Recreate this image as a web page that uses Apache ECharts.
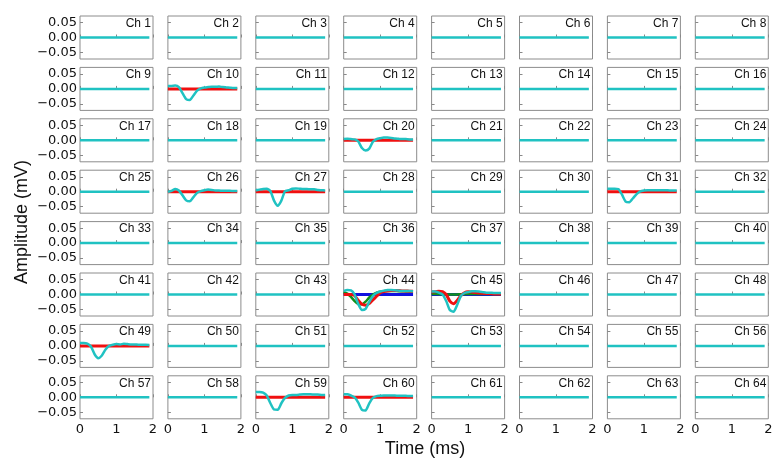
<!DOCTYPE html>
<html>
<head>
<meta charset="utf-8">
<script src="https://cdn.jsdelivr.net/npm/echarts@6/dist/echarts.min.js"></script>
<style>
  html, body { margin: 0; padding: 0; background: #fff; }
  #chart { width: 784px; height: 470px; }
</style>
</head>
<body>
<div id="chart"></div>
<script>
// time axis (ms)
const timeMs = [0, 0.1, 0.2, 0.3, 0.4, 0.5, 0.6, 0.7, 0.8, 0.9, 1.0, 1.1, 1.2, 1.3, 1.4, 1.5, 1.6, 1.7, 1.8, 1.9]
const zeroTrace = [0, 0, 0, 0, 0, 0, 0, 0, 0, 0, 0, 0, 0, 0, 0, 0, 0, 0, 0, 0]

const yTicks = [-0.05, 0, 0.05]

// channels with a response (mV)
const ch10Cyan = [0.010, 0.010, 0.011, 0.006, -0.014, -0.034, -0.037, -0.022, -0.006, 0.002, 0.005, 0.006, 0.007, 0.007, 0.008, 0.006, 0.005, 0.004, 0.003, 0.003]
const ch20Cyan = [0.004, 0.005, 0.004, 0.003, -0.004, -0.026, -0.034, -0.028, -0.005, 0.004, 0.007, 0.009, 0.009, 0.008, 0.006, 0.005, 0.004, 0.004, 0.003, 0.003]
const ch26Cyan = [0.000, 0.003, 0.009, 0.004, -0.012, -0.029, -0.032, -0.018, -0.004, 0.002, 0.005, 0.007, 0.006, 0.004, 0.004, 0.003, 0.003, 0.003, 0.002, 0.002]
const ch27Cyan = [0.005, 0.007, 0.009, 0.010, 0.002, -0.030, -0.047, -0.030, 0.002, 0.005, 0.010, 0.011, 0.010, 0.009, 0.009, 0.008, 0.008, 0.006, 0.005, 0.004]
const ch31Cyan = [0.010, 0.010, 0.010, 0.009, -0.010, -0.033, -0.035, -0.022, -0.008, 0.001, 0.004, 0.005, 0.005, 0.005, 0.005, 0.005, 0.005, 0.004, 0.004, 0.004]
const ch44Green = [0.008, 0.003, -0.008, -0.022, -0.032, -0.033, -0.024, -0.010, 0.000, 0.006, 0.009, 0.011, 0.012, 0.012, 0.012, 0.011, 0.011, 0.010, 0.010, 0.010]
const ch44Red = [0.000, 0.000, 0.000, -0.004, -0.020, -0.033, -0.036, -0.030, -0.018, -0.006, 0.006, 0.010, 0.012, 0.013, 0.013, 0.013, 0.012, 0.012, 0.011, 0.011]
const ch44Cyan = [0.012, 0.015, 0.014, 0.000, -0.032, -0.052, -0.048, -0.025, -0.005, 0.005, 0.010, 0.013, 0.015, 0.015, 0.014, 0.013, 0.012, 0.012, 0.012, 0.011]
const ch45Green = [0.002, 0.002, 0.001, 0.001, 0.000, 0.000, 0.000, 0.000, 0.001, 0.001, 0.002, 0.002, 0.002, 0.002, 0.002, 0.002, 0.002, 0.002, 0.002, 0.002]
const ch45Red = [0.008, 0.009, 0.011, 0.010, 0.000, -0.022, -0.031, -0.020, -0.004, 0.006, 0.009, 0.008, 0.007, 0.005, 0.004, 0.003, 0.003, 0.002, 0.002, 0.002]
const ch45Cyan = [0.010, 0.010, 0.006, 0.000, -0.022, -0.052, -0.058, -0.035, -0.005, 0.005, 0.008, 0.011, 0.011, 0.010, 0.008, 0.006, 0.006, 0.005, 0.005, 0.005]
const ch49Cyan = [0.010, 0.010, 0.008, -0.002, -0.028, -0.041, -0.032, -0.012, 0.000, 0.004, 0.006, 0.005, 0.007, 0.006, 0.005, 0.005, 0.004, 0.004, 0.004, 0.003]
const ch59Cyan = [0.018, 0.018, 0.016, 0.006, -0.020, -0.041, -0.042, -0.020, -0.002, 0.006, 0.008, 0.008, 0.009, 0.010, 0.010, 0.010, 0.009, 0.009, 0.008, 0.008]
const ch60Cyan = [0.010, 0.010, 0.006, 0.000, -0.018, -0.042, -0.044, -0.020, -0.002, 0.004, 0.005, 0.006, 0.006, 0.006, 0.006, 0.005, 0.005, 0.005, 0.004, 0.004]

const COLORS = { blue: '#1010e0', green: '#10901a', red: '#f01010', cyan: '#20c2c2' }
const WIDTHS = { blue: 3, green: 2.5, red: 3, cyan: 2.5 }

// traces per channel, drawn in this order (cyan on top)
const traces = {
  10: [['red', zeroTrace], ['cyan', ch10Cyan]],
  20: [['red', zeroTrace], ['cyan', ch20Cyan]],
  26: [['red', zeroTrace], ['cyan', ch26Cyan]],
  27: [['red', zeroTrace], ['cyan', ch27Cyan]],
  31: [['red', zeroTrace], ['cyan', ch31Cyan]],
  44: [['blue', zeroTrace], ['green', ch44Green], ['red', ch44Red], ['cyan', ch44Cyan]],
  45: [['blue', zeroTrace], ['green', ch45Green], ['red', ch45Red], ['cyan', ch45Cyan]],
  49: [['red', zeroTrace], ['cyan', ch49Cyan]],
  59: [['red', zeroTrace], ['cyan', ch59Cyan]],
  60: [['red', zeroTrace], ['cyan', ch60Cyan]]
}

const W = 784
const cellLeft = 80, cellTop = 16, pitchX = 87.9, pitchY = 51.4, cellW = 73, cellH = 43

const grids = [], xAxes = [], yAxes = [], titles = [], series = []

for (let i = 0; i < 64; i++) {
  const r = Math.floor(i / 8), c = i % 8
  const left = cellLeft + c * pitchX
  const top = cellTop + r * pitchY
  grids.push({
    left: left, top: top, width: cellW, height: cellH,
    show: true, borderColor: '#8c8c8c', borderWidth: 1, backgroundColor: '#fff'
  })
  xAxes.push({
    gridIndex: i, type: 'value', min: 0, max: 2, interval: 1,
    axisLine: { show: false },
    axisTick: { show: true, inside: true, length: 3, lineStyle: { color: '#888' } },
    splitLine: { show: false },
    axisLabel: {
      show: r === 7, margin: 4, color: '#111',
      fontFamily: 'DejaVu Sans', fontSize: 13
    }
  })
  yAxes.push({
    gridIndex: i, type: 'value', min: -0.072, max: 0.072,
    axisLine: { show: false },
    axisTick: { show: true, inside: true, length: 3, customValues: yTicks, lineStyle: { color: '#888' } },
    splitLine: { show: false },
    axisLabel: {
      show: c === 0, margin: 3, color: '#111', customValues: yTicks,
      fontFamily: 'DejaVu Sans', fontSize: 13,
      formatter: v => (v < 0 ? '\u2212' : '') + Math.abs(v).toFixed(2)
    }
  })
  titles.push({
    text: 'Ch ' + (i + 1),
    right: W - (left + cellW) + 2, top: top + 1.5, padding: 0,
    textStyle: { fontFamily: 'Liberation Sans', fontSize: 12, fontWeight: 'normal', color: '#111' }
  })
  const list = traces[i + 1] || [['cyan', zeroTrace]]
  list.forEach(([name, vals]) => {
    series.push({
      type: 'line', xAxisIndex: i, yAxisIndex: i,
      data: timeMs.map((t, k) => [t, vals[k]]),
      showSymbol: false, smooth: 0.2,
      lineStyle: { color: COLORS[name], width: WIDTHS[name] },
      itemStyle: { color: COLORS[name] },
      silent: true
    })
  })
}

const chart = echarts.init(document.getElementById('chart'))
chart.setOption({
  animation: false,
  backgroundColor: '#fff',
  title: titles,
  grid: grids,
  xAxis: xAxes,
  yAxis: yAxes,
  series: series,
  graphic: [
    {
      type: 'text', x: 22, y: 222, rotation: Math.PI / 2,
      style: { text: 'Amplitude (mV)', font: '18px "Liberation Sans"', fill: '#111', textAlign: 'center', textVerticalAlign: 'middle' }
    },
    {
      type: 'text', x: 425, y: 449,
      style: { text: 'Time (ms)', font: '18px "Liberation Sans"', fill: '#111', textAlign: 'center', textVerticalAlign: 'middle' }
    }
  ]
})
</script>
</body>
</html>
